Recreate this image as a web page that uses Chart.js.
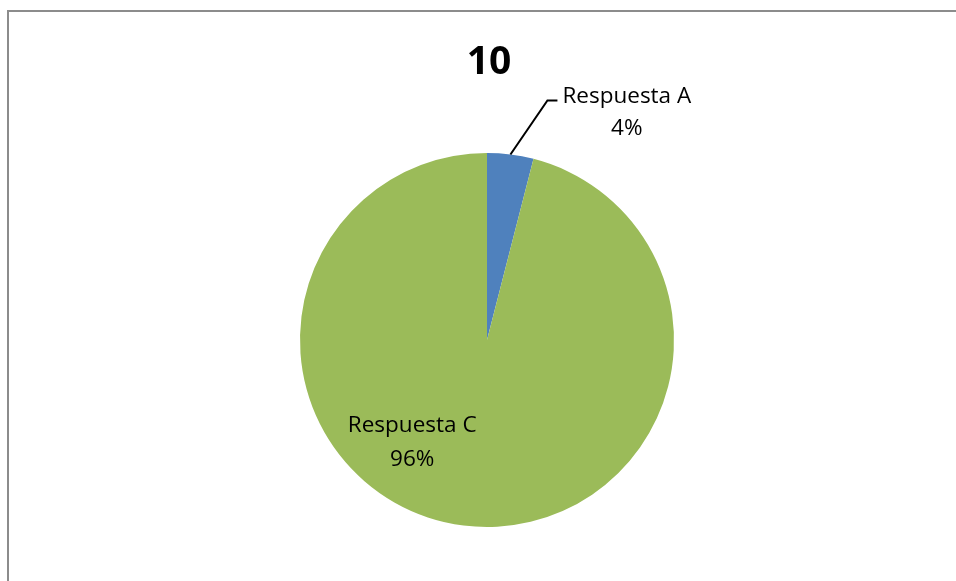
<!DOCTYPE html>
<html>
<head>
<meta charset="utf-8">
<script src="https://cdn.jsdelivr.net/npm/chart.js@4/dist/chart.umd.min.js"></script>
<style>
  html, body { margin: 0; padding: 0; background: #fff; }
  #wrap { position: relative; width: 956px; height: 581px; overflow: hidden; }
  #frame { position: absolute; left: 7px; top: 10px; width: 960px; height: 600px;
           border-left: 2px solid #8c8c8c; border-top: 2px solid #8c8c8c; }
  canvas { position: absolute; left: 0; top: 0; }
</style>
</head>
<body>
<div id="wrap">
  <div id="frame"></div>
  <canvas id="chart" width="956" height="581"></canvas>
</div>
<script>
const chartTitle = '10';
const categories = ['Respuesta A', 'Respuesta C'];
const percentages = [4, 96];
const sliceColors = ['#4F81BD', '#9BBB59'];

const FONT = '"Open Sans", sans-serif';

// titulo y etiquetas de datos al estilo de Excel
const pieLabels = {
  id: 'pieLabels',
  afterDraw(chart) {
    const ctx = chart.ctx;
    const meta = chart.getDatasetMeta(0);
    ctx.save();

    ctx.fillStyle = '#000';
    ctx.textAlign = 'center';
    ctx.textBaseline = 'middle';
    ctx.font = 'bold 39px ' + FONT;
    ctx.fillText(chartTitle, meta.data[0].x + 2, 63);

    ctx.font = '22.5px ' + FONT;
    meta.data.forEach((arc, i) => {
      const text = categories[i];
      const pct = percentages[i] + '%';
      const r = arc.outerRadius;
      const mid = (arc.startAngle + arc.endAngle) / 2;
      if (i === 0) {
        // etiqueta exterior con linea guia
        const ax = arc.x + Math.cos(mid) * r;
        const ay = arc.y + Math.sin(mid) * r;
        const ex = ax + 37, ey = ay - 54;
        ctx.strokeStyle = '#000';
        ctx.lineWidth = 2;
        ctx.beginPath();
        ctx.moveTo(ax, ay);
        ctx.lineTo(ex, ey);
        ctx.lineTo(ex + 10, ey);
        ctx.stroke();
        const w = ctx.measureText(text).width;
        const cx = ex + 15 + w / 2;
        ctx.fillText(text, cx, ey - 4);
        ctx.fillText(pct, cx, ey + 28);
      } else {
        const cx = arc.x - 0.40 * r;
        const cy = arc.y + 0.545 * r;
        ctx.fillText(text, cx, cy - 16);
        ctx.fillText(pct, cx, cy + 18);
      }
    });
    ctx.restore();
  }
};

new Chart(document.getElementById('chart'), {
  type: 'pie',
  data: {
    labels: categories,
    datasets: [{
      data: percentages,
      backgroundColor: sliceColors,
      borderWidth: 0
    }]
  },
  options: {
    responsive: false,
    animation: false,
    layout: { padding: { left: 300, right: 282, top: 153, bottom: 54 } },
    plugins: {
      legend: { display: false },
      title: { display: false },
      tooltip: { enabled: false }
    }
  },
  plugins: [pieLabels]
});
</script>
</body>
</html>
